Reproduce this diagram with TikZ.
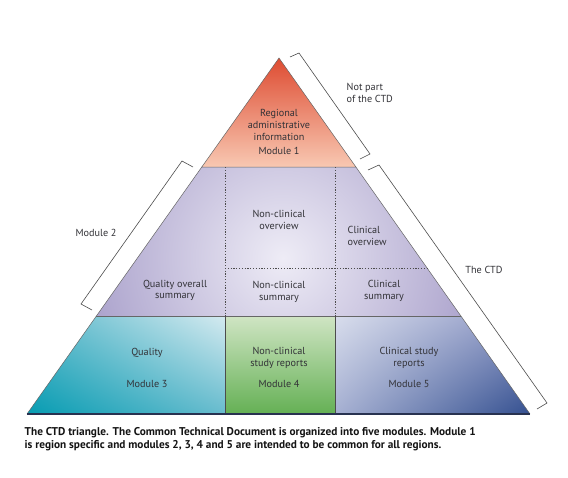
\documentclass[tikz,border=0pt]{standalone}
\usepackage{fontspec}
\setmainfont{PT Sans}
\usetikzlibrary{shadings}
\definecolor{mOneTop}{RGB}{222,76,50}
\definecolor{mOneBot}{RGB}{248,200,178}
\definecolor{mTwoIn}{RGB}{238,236,246}
\definecolor{mTwoOut}{RGB}{120,106,172}
\definecolor{mThrUR}{RGB}{212,234,240}
\definecolor{mThrLL}{RGB}{6,156,178}
\definecolor{mThrUL}{RGB}{90,184,202}
\definecolor{mThrLR}{RGB}{104,188,206}
\definecolor{mFourTop}{RGB}{208,229,196}
\definecolor{mFourBot}{RGB}{100,176,84}
\definecolor{mFiveUL}{RGB}{216,221,236}
\definecolor{mFiveLR}{RGB}{52,80,144}
\definecolor{mFiveUR}{RGB}{140,150,196}
\definecolor{mFiveLL}{RGB}{166,176,210}
\definecolor{baseC}{RGB}{40,50,80}
\definecolor{txt}{RGB}{50,50,55}
\begin{document}
\begin{tikzpicture}[x=1pt,y=-1pt,
  lbl/.style={text=txt, font=\fontsize{10.2}{11.8}\selectfont, align=center, inner sep=0pt},
  edge/.style={draw=black!60, line width=0.5pt},
  dots/.style={draw=black!70, line width=0.8pt, dash pattern=on 1.2pt off 1.6pt},
  brk/.style={draw=black!70, line width=0.6pt}]
\useasboundingbox (0,0) rectangle (568,477);
\fill[white] (0,0) rectangle (568,477);
% key points
\coordinate (A) at (279,58);
\coordinate (L1) at (201.8,167); \coordinate (R1) at (355.9,167);
\coordinate (L2) at (96.4,316);  \coordinate (R2) at (460.9,316);
\coordinate (L3) at (27,414);    \coordinate (R3) at (530,414);
\coordinate (V1t) at (225,167); \coordinate (V2t) at (335,167);
\coordinate (V1m) at (225,316); \coordinate (V2m) at (335,316);
\coordinate (V1b) at (225,414); \coordinate (V2b) at (335,414);
\coordinate (Hm) at (225,268); \coordinate (Hr) at (427.1,268);
% Module 1
\shade[top color=mOneTop, bottom color=mOneBot] (A) -- (R1) -- (L1) -- cycle;
% Module 2
\begin{scope}
\clip (L1) -- (R1) -- (R2) -- (L2) -- cycle;
\shade[inner color=mTwoIn, outer color=mTwoOut] (283,258) circle (350);
\end{scope}
% Module 3
\shade[upper right=mThrUR, lower left=mThrLL, upper left=mThrUL, lower right=mThrLR]
  (L2) -- (V1m) -- (V1b) -- (L3) -- cycle;
% Module 4
\shade[top color=mFourTop, bottom color=mFourBot] (V1m) rectangle (V2b);
% Module 5
\shade[upper left=mFiveUL, lower right=mFiveLR, upper right=mFiveUR, lower left=mFiveLL]
  (V2m) -- (R2) -- (R3) -- (V2b) -- cycle;
% outlines
\draw[edge] (A) -- (R1) -- (L1) -- cycle;
\draw[edge] (L1) -- (L2) (R1) -- (R2);
\draw[edge] (L2) -- (R2);
\draw[edge] (L2) -- (L3) (R2) -- (R3);
\draw[draw=black!70, line width=0.7pt] (V1m) -- (V1b) (V2m) -- (V2b);
\draw[draw=baseC, line width=1.3pt] (L3) -- (R3);
% dotted dividers
\draw[dots] (V1t) -- (V1m);
\draw[dots] (V2t) -- (V2m);
\draw[dots] (Hm) -- (Hr);
% brackets
\coordinate (b1a) at (290,57); \coordinate (b1b) at (299,53); \coordinate (b1c) at (370,154); \coordinate (b1d) at (360,159);
\draw[brk] (b1a) -- (b1b) -- (b1c) -- (b1d);
\coordinate (b2a) at (368,170); \coordinate (b2b) at (379,165); \coordinate (b2c) at (547,403); \coordinate (b2d) at (537,409);
\draw[brk] (b2a) -- (b2b) -- (b2c) -- (b2d);
\coordinate (b3a) at (193,167); \coordinate (b3b) at (182,161); \coordinate (b3c) at (81,304); \coordinate (b3d) at (92,310);
\draw[brk] (b3a) -- (b3b) -- (b3c) -- (b3d);
% labels
\node[lbl] (m1t) at (279,125) {Regional\\administrative\\information};
\node[lbl] (m1) at (279,151) {Module 1};
\node[lbl] (nco) at (279,220) {Non-clinical\\overview};
\node[lbl, anchor=west, align=left] (co) at (347.5,236) {Clinical\\overview};
\node[lbl] (qos) at (175,290.5) {Quality overall\\summary};
\node[lbl] (ncs) at (279,292) {Non-clinical\\summary};
\node[lbl] (cs) at (384,291) {Clinical\\summary};
\node[lbl] (q) at (147,353) {Quality};
\node[lbl] (m3) at (147,384) {Module 3};
\node[lbl] (ncsr) at (279,358) {Non-clinical\\study reports};
\node[lbl] (m4) at (279,384) {Module 4};
\node[lbl] (csr) at (409,358) {Clinical study\\reports};
\node[lbl] (m5) at (409,384) {Module 5};
\node[lbl, anchor=west, align=left] (np) at (346.5,93) {Not part\\of the CTD};
\node[lbl] (ctd) at (484,270) {The CTD};
\node[lbl] (mod2) at (96,233) {Module 2};
\node[anchor=west, align=left, inner sep=0pt, text=black!92, font=\fontsize{11.3}{12.6}\selectfont\bfseries] (cap) at (24.5,439)
  {The CTD triangle. The Common Technical Document is organized into five modules. Module 1\\
   is region specific and modules 2, 3, 4 and 5 are intended to be common for all regions.};
\end{tikzpicture}
\end{document}
